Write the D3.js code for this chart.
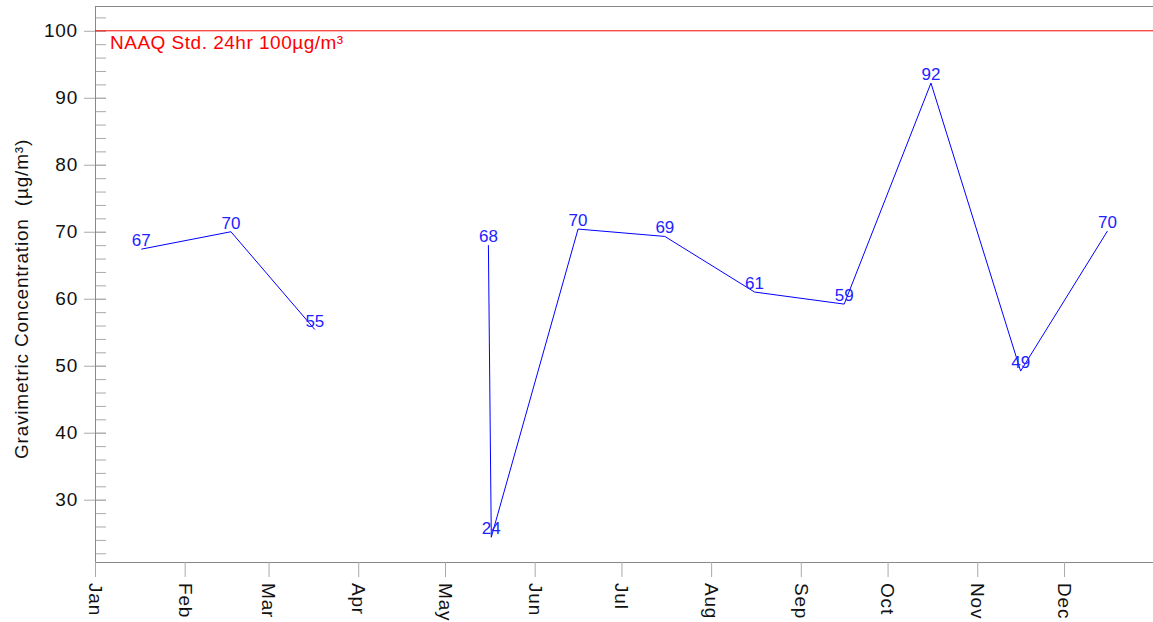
<!DOCTYPE html>
<meta charset="utf-8">
<title>Gravimetric Concentration</title>
<style>
body {
  margin: 0;
  background: #fff;
}
svg {
  display: block;
  font-family: "Liberation Sans", Arial, sans-serif;
}
</style>
<body></body>
<script src="https://d3js.org/d3.v7.min.js"></script>
<script>
// sample dates (null value = no sample, breaks the line)
var sampleDates = ['2024-01-17', '2024-02-17', '2024-03-17', '2024-04-16', '2024-05-16', '2024-05-17',
                   '2024-06-16', '2024-07-16', '2024-08-16', '2024-09-16', '2024-10-16', '2024-11-16', '2024-12-16'];
var concValues = [67.4, 70.0, 55.4, null, 68.0, 24.4, 70.4, 69.3, 61.0, 59.2, 92.2, 49.2, 70.1];

var yMajorTicks = [30, 40, 50, 60, 70, 80, 90, 100];
var yMinorTicks = d3.range(22, 103, 2);
var stdValue = 100,
    stdLabel = 'NAAQ Std. 24hr 100µg/m³',
    yTitle = 'Gravimetric Concentration  (µg/m³)';

var chartWidth = 1153,
    chartHeight = 622,
    plotLeft = 95,
    plotRight = 1153.7,
    plotTop = 6,
    plotBottom = 562;

var parseDate = d3.timeParse('%Y-%m-%d');

var data = sampleDates.map(function (d, i) {
  return { date: parseDate(d), value: concValues[i] };
});

var x = d3.scaleTime()
    .domain([new Date(2024, 0, 1), new Date(2025, 0, 1)])
    .range([plotLeft, plotRight]);

var y = d3.scaleLinear()
    .domain([20.7, 103.7])
    .range([plotBottom, plotTop]);

var svg = d3.select('body')
  .append('svg')
  .attr('width', chartWidth)
  .attr('height', chartHeight);

// top frame line
svg.append('line')
  .attr('x1', plotLeft).attr('x2', chartWidth)
  .attr('y1', plotTop + 0.5).attr('y2', plotTop + 0.5)
  .style('stroke', '#888');

// minor/inner ticks on y
var yInner = svg.append('g')
  .attr('transform', 'translate(' + plotLeft + ',0)')
  .call(d3.axisRight(y).tickValues(yMinorTicks.concat(yMajorTicks)).tickSize(11).tickFormat(''));
yInner.select('.domain').remove();
yInner.selectAll('line').style('stroke', '#aaa');

// y axis
var yAxis = svg.append('g')
  .attr('transform', 'translate(' + plotLeft + ',0)')
  .call(d3.axisLeft(y).tickValues(yMajorTicks).tickSize(11).tickSizeOuter(0).tickPadding(6));
yAxis.attr('font-family', null).attr('font-size', null);
yAxis.select('.domain').style('stroke', '#888');
yAxis.selectAll('line').style('stroke', '#aaa');
yAxis.selectAll('text')
  .style('font-size', '19px')
  .style('letter-spacing', '0.8px')
  .style('fill', '#111');

// x axis, one tick per month
var monthTicks = d3.timeMonth.range(new Date(2024, 0, 1), new Date(2024, 11, 2));
var xAxis = svg.append('g')
  .attr('transform', 'translate(0,' + plotBottom + ')')
  .call(d3.axisBottom(x).tickValues(monthTicks).tickFormat(d3.timeFormat('%b')).tickSize(15).tickSizeOuter(0));
xAxis.attr('font-family', null).attr('font-size', null);
xAxis.select('.domain').style('stroke', '#888');
xAxis.selectAll('line').style('stroke', '#aaa');
xAxis.selectAll('text')
  .style('font-size', '19px')
  .style('letter-spacing', '0.8px')
  .style('fill', '#111')
  .style('text-anchor', 'start')
  .attr('transform', 'rotate(90)')
  .attr('x', 21)
  .attr('y', 0)
  .attr('dy', '0.35em');

// y title
svg.append('text')
  .attr('transform', 'translate(28,299) rotate(-90)')
  .style('text-anchor', 'middle')
  .style('white-space', 'pre')
  .style('font-size', '19px')
  .style('letter-spacing', '0.8px')
  .style('fill', '#111')
  .text(yTitle);

// standard line
svg.append('line')
  .attr('x1', plotLeft).attr('x2', chartWidth)
  .attr('y1', y(stdValue)).attr('y2', y(stdValue))
  .style('stroke', '#f00')
  .style('stroke-width', 1);

svg.append('text')
  .attr('x', plotLeft + 15)
  .attr('y', y(stdValue) + 18.5)
  .style('font-size', '19px')
  .style('letter-spacing', '0.5px')
  .style('fill', '#f00')
  .text(stdLabel);

// series line
var line = d3.line()
  .defined(function (d) { return d.value != null; })
  .x(function (d) { return x(d.date); })
  .y(function (d) { return y(d.value); });

svg.append('path')
  .datum(data)
  .attr('d', line)
  .style('fill', 'none')
  .style('stroke', '#00f')
  .style('stroke-width', 1);

svg.selectAll('.val')
  .data(data.filter(function (d) { return d.value != null; }))
  .enter()
  .append('text')
  .attr('class', 'val')
  .attr('x', function (d) { return x(d.date); })
  .attr('y', function (d) { return y(d.value) - 3; })
  .style('text-anchor', 'middle')
  .style('font-size', '17px')
  .style('fill', '#22f')
  .text(function (d) { return d3.format('.0f')(d.value); });
</script>
